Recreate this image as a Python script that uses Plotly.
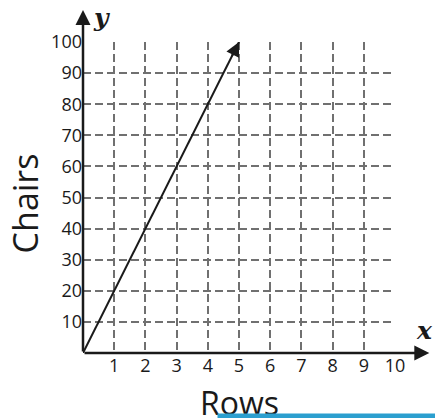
import plotly.graph_objects as go

x_vals = [0, 5]
y_vals = [0, 100]
x_ticks = [1, 2, 3, 4, 5, 6, 7, 8, 9, 10]
y_ticks = [10, 20, 30, 40, 50, 60, 70, 80, 90, 100]
x_title = "Rows"
y_title = "Chairs"

FONT = "Open Sans"
INK = "#1a1a1a"
fig = go.Figure()
fig.add_trace(go.Scatter(x=x_vals, y=y_vals, mode="lines",
                         line=dict(color=INK, width=2), showlegend=False,
                         hoverinfo="skip", cliponaxis=False))

# arrow head on data line
fig.add_annotation(x=x_vals[1], y=y_vals[1], ax=x_vals[1] - 0.25, ay=y_vals[1] - 5,
                   xref="x", yref="y", axref="x", ayref="y", showarrow=True,
                   arrowhead=2, arrowsize=1.4, arrowwidth=2, arrowcolor=INK, text="")
# axes arrows
fig.add_annotation(x=11.1, y=0, ax=0, ay=0, xref="x", yref="y", axref="x", ayref="y",
                   showarrow=True, arrowhead=2, arrowsize=1.2, arrowwidth=2.5,
                   arrowcolor=INK, text="")
fig.add_annotation(x=0, y=110.3, ax=0, ay=0, xref="x", yref="y", axref="x", ayref="y",
                   showarrow=True, arrowhead=2, arrowsize=1.2, arrowwidth=2.5,
                   arrowcolor=INK, text="")
fig.add_annotation(x=1.093, y=0.072, xref="paper", yref="paper", text="<b><i>x</i></b>",
                   showarrow=False, xanchor="center", yanchor="middle",
                   font=dict(family="DejaVu Serif", size=25, color=INK))
fig.add_annotation(x=0.058, y=1.08, xref="paper", yref="paper", text="<b><i>y</i></b>",
                   showarrow=False, xanchor="center", yanchor="middle",
                   font=dict(family="DejaVu Serif", size=25, color=INK))
fig.add_annotation(x=-0.185, y=0.482, xref="paper", yref="paper", text=y_title,
                   showarrow=False, textangle=-90, xanchor="center", yanchor="middle",
                   font=dict(family=FONT, size=34, color=INK))
fig.add_annotation(x=0.503, y=-0.083, xref="paper", yref="paper", text=x_title,
                   showarrow=False, xanchor="center", yanchor="top",
                   font=dict(family=FONT, size=32, color=INK))
# blue bar at bottom (drawn over the cut-off title, as in the reference)
fig.add_annotation(x=0.43, y=-0.193, xref="paper", yref="paper", text=" ",
                   showarrow=False, xanchor="left", yanchor="top",
                   width=240, height=14, bgcolor="#2b9fcf", borderpad=0,
                   font=dict(size=8))

grid = dict(showgrid=True, gridcolor="#707070", griddash="8px,4px", gridwidth=2,
            zeroline=False, showline=False, ticks="",
            tickfont=dict(family=FONT, size=18, color=INK))
fig.update_xaxes(range=[0, 10], tickvals=x_ticks, ticktext=[str(v) for v in x_ticks], **grid)
fig.update_yaxes(range=[0, 100], tickvals=y_ticks, ticktext=[str(v) for v in y_ticks], **grid)

fig.update_layout(width=435, height=418, autosize=False,
                  margin=dict(l=83, r=40, t=42, b=65),
                  plot_bgcolor="white", paper_bgcolor="white")
fig.write_html("out.html", config={"displayModeBar": False},
               post_script="document.body.style.margin='0';document.body.style.overflow='hidden';")
